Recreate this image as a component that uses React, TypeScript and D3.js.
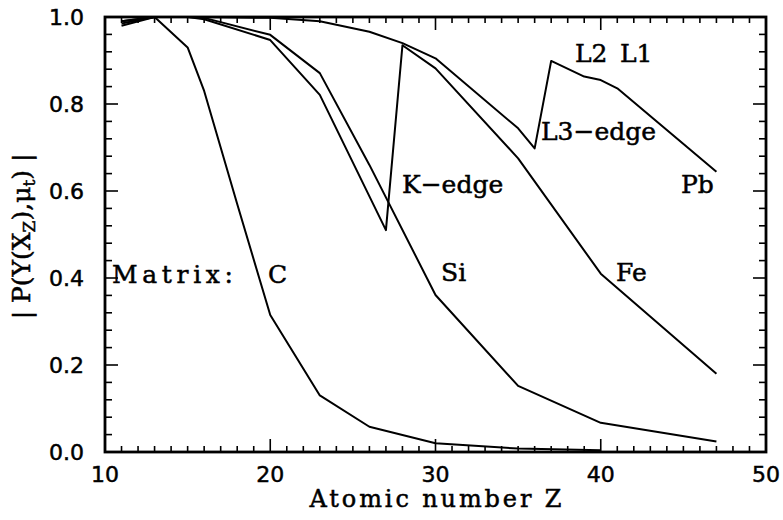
import React from "react";
import * as d3 from "d3";

// Atomic numbers sampled for each matrix curve and the corresponding |P| values
const zC = [11, 13, 15, 16, 18, 20, 23, 26, 30, 35, 40];
const pC = [0.98, 1.0, 0.93, 0.83, 0.57, 0.315, 0.13, 0.058, 0.02, 0.008, 0.004];

const zSi = [11, 13, 15, 16, 20, 23, 26, 30, 35, 40, 47];
const pSi = [0.985, 1.0, 1.0, 0.998, 0.959, 0.871, 0.66, 0.361, 0.152, 0.067, 0.024];

const zFe = [11, 13, 15, 16, 20, 23, 27, 28, 30, 35, 40, 47];
const pFe = [0.99, 1.0, 1.0, 0.995, 0.947, 0.821, 0.51, 0.935, 0.882, 0.675, 0.41, 0.18];

const zPb = [11, 13, 15, 16, 20, 23, 26, 28, 30, 35, 36, 37, 39, 40, 41, 47];
const pPb = [0.99, 1.0, 1.0, 1.0, 0.998, 0.99, 0.966, 0.94, 0.905, 0.744, 0.698, 0.899, 0.863, 0.855, 0.836, 0.644];

const xTicks = [10, 20, 30, 40, 50];
const yTicks = [0.0, 0.2, 0.4, 0.6, 0.8, 1.0];

const W = 783;
const H = 520;
const left = 105, right = 766, top = 17, bottom = 452;

const x = d3.scaleLinear().domain([10, 50]).range([left, right]);
const y = d3.scaleLinear().domain([0, 1]).range([bottom, top]);

const line = d3
  .line<[number, number]>()
  .x((d) => x(d[0]))
  .y((d) => y(d[1]));

const zip = (a: number[], b: number[]) => a.map((v, i) => [v, b[i]] as [number, number]);

const series = [zip(zC, pC), zip(zSi, pSi), zip(zFe, pFe), zip(zPb, pPb)];

const tickFont = "'DejaVu Sans', sans-serif";
const labelFont = "'DejaVu Serif', serif";
// a hairline outline gives the text a slightly heavier stroke
const heavy = { stroke: "#000", strokeWidth: 0.5 };

export default function App() {
  const xMinor = d3.range(10, 51, 1);
  const yMinor = d3.range(0, 1.0001, 0.04);
  return (
    <svg
      width={W}
      height={H}
      style={{ position: "absolute", left: 0, top: 0, background: "#fff" }}
    >
      {/* data curves */}
      {series.map((s, i) => (
        <path key={i} d={line(s) || ""} fill="none" stroke="#000" strokeWidth={2} strokeLinejoin="round" />
      ))}

      {/* inward ticks on all four sides */}
      {xMinor.map((v) => {
        const major = v % 10 === 0;
        const len = major ? 13 : 6;
        return (
          <g key={"xt" + v} stroke="#000" strokeWidth={1.6}>
            <line x1={x(v)} x2={x(v)} y1={bottom} y2={bottom - len} />
            <line x1={x(v)} x2={x(v)} y1={top} y2={top + len} />
          </g>
        );
      })}
      {yMinor.map((v, i) => {
        const major = i % 5 === 0;
        const len = major ? 13 : 7;
        return (
          <g key={"yt" + i} stroke="#000" strokeWidth={1.6}>
            <line x1={left} x2={left + len} y1={y(v)} y2={y(v)} />
            <line x1={right} x2={right - len} y1={y(v)} y2={y(v)} />
          </g>
        );
      })}

      {/* frame */}
      <rect x={left} y={top} width={right - left} height={bottom - top} fill="none" stroke="#000" strokeWidth={2.8} />

      {/* tick labels */}
      {xTicks.map((v) => (
        <text key={"xl" + v} x={x(v)} y={482} textAnchor="middle" fontFamily={tickFont} fontSize={22} {...heavy}>
          {v}
        </text>
      ))}
      {yTicks.map((v) => (
        <text key={"yl" + v} x={84} y={y(v) + 8} textAnchor="end" fontFamily={tickFont} fontSize={22} {...heavy}>
          {v.toFixed(1)}
        </text>
      ))}

      {/* axis titles */}
      <text x={(left + right) / 2} y={507} textAnchor="middle" fontFamily={labelFont} fontSize={24} textLength={252} lengthAdjust="spacing" {...heavy}>
        Atomic number Z
      </text>
      <text
        transform={`translate(30,${(top + bottom) / 2 + 2}) rotate(-90)`}
        textAnchor="middle"
        fontFamily={labelFont}
        fontSize={25}
        {...heavy}
      >
        | P(Y(X<tspan baselineShift="-30%" fontSize={17}>Z</tspan>),μ<tspan baselineShift="-30%" fontSize={17}>t</tspan>) |
      </text>

      {/* curve annotations */}
      <g fontFamily={labelFont} fontSize={25} {...heavy}>
        <text x={112} y={283} textLength={121} lengthAdjust="spacing">Matrix:</text>
        <text x={268} y={283}>C</text>
        <text x={441} y={281}>Si</text>
        <text x={616} y={281}>Fe</text>
        <text x={681} y={193}>Pb</text>
        <text x={402} y={193}>K−edge</text>
        <text x={541} y={140}>L3−edge</text>
        <text x={575} y={62}>L2</text>
        <text x={620} y={62}>L1</text>
      </g>
    </svg>
  );
}
